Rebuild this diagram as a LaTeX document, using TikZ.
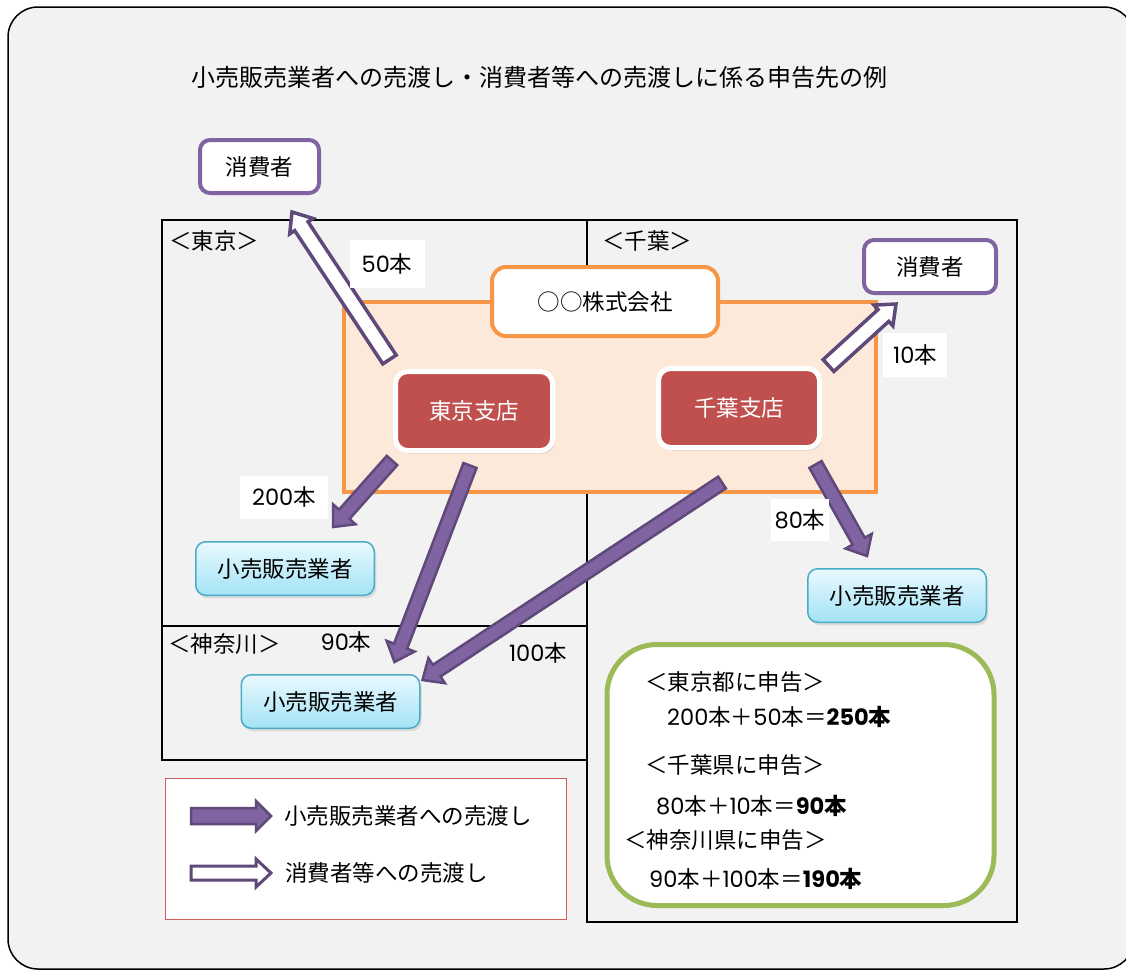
\documentclass[tikz,border=0pt]{standalone}
\usepackage{fontspec}
\usepackage{xcolor}
\usetikzlibrary{calc,shadows}
\newfontfamily\jpfont{Noto Sans CJK JP}
\newfontfamily\numfont{Poppins}
\newcommand\nm[1]{{\numfont #1}}
\definecolor{bgGray}{HTML}{F2F2F2}
\definecolor{consPurple}{HTML}{8064A2}
\definecolor{arrowLine}{HTML}{5F497A}
\definecolor{sellFill}{HTML}{8064A2}
\definecolor{corpOrange}{HTML}{F79646}
\definecolor{corpFill}{HTML}{FDE9D9}
\definecolor{branchRed}{HTML}{C0504D}
\definecolor{retailLine}{HTML}{4BACC6}
\definecolor{retailTop}{HTML}{E9F9FE}
\definecolor{retailBot}{HTML}{A3E3F6}
\definecolor{sumGreen}{HTML}{9BBB59}
\definecolor{legendRed}{HTML}{D0605C}
\tikzset{
  arrow shaft/.store in=\arrShaft,
  arrow head/.store in=\arrHead,
  arrow tiplen/.store in=\arrTip,
  arrow shaft=7pt, arrow head=15pt, arrow tiplen=17pt,
  blockarrow/.style={draw=arrowLine, line join=miter,
    to path={let \p1=(\tikztostart), \p2=(\tikztotarget),
      \n1={atan2(\y2-\y1,\x2-\x1)} in
      ($(\p1)+(\n1+90:\arrShaft)$)
      -- ($(\p2)+(\n1+180:\arrTip)+(\n1+90:\arrShaft)$)
      -- ($(\p2)+(\n1+180:\arrTip)+(\n1+90:\arrHead)$)
      -- (\p2)
      -- ($(\p2)+(\n1+180:\arrTip)+(\n1-90:\arrHead)$)
      -- ($(\p2)+(\n1+180:\arrTip)+(\n1-90:\arrShaft)$)
      -- ($(\p1)+(\n1-90:\arrShaft)$) -- cycle}},
  sellarrow/.style={blockarrow, fill=sellFill, line width=2.5pt},
  consarrow/.style={blockarrow, fill=white, line width=3.5pt,
    arrow shaft=8pt, arrow head=14pt, arrow tiplen=17pt}
}
\begin{document}
\begin{tikzpicture}[x=1pt,y=-1pt,
  font=\jpfont\fontsize{22.5}{26}\selectfont,
  regionbox/.style={draw=black, line width=2.5pt},
  lbl/.style={anchor=west, inner sep=0pt},
  consbox/.style={draw=consPurple, line width=4pt, fill=white,
    rounded corners=10pt, inner sep=0pt},
  corpbox/.style={draw=corpOrange, line width=4pt, fill=corpFill, inner sep=0pt},
  corpname/.style={draw=corpOrange, line width=4pt, fill=white,
    rounded corners=14pt, inner sep=0pt},
  branchbox/.style={draw=white, line width=5pt, fill=branchRed, text=white,
    rounded corners=12pt, inner sep=0pt,
    drop shadow={opacity=0.25, shadow xshift=2pt, shadow yshift=-3pt}},
  retailbox/.style={draw=retailLine, line width=1.5pt, rounded corners=10pt,
    top color=retailTop, bottom color=retailBot, inner sep=0pt,
    drop shadow={opacity=0.2, shadow xshift=2pt, shadow yshift=-3pt}},
  numlbl/.style={fill=white, inner sep=0pt},
  sumbox/.style={draw=sumGreen, line width=5pt, fill=white,
    rounded corners=50pt, inner sep=0pt},
  legendbox/.style={draw=legendRed, line width=1.2pt, fill=white, inner sep=0pt}]

\useasboundingbox (0,0) rectangle (1126,972);
\clip (0,0) rectangle (1126,972);
\fill[white] (0,0) rectangle (1126,972);
\draw[fill=bgGray, line width=1.5pt, rounded corners=30pt] (8,7) rectangle (1134,969);

\node[font=\jpfont\fontsize{24}{28}\selectfont] (title) at (539,77)
  {小売販売業者への売渡し・消費者等への売渡しに係る申告先の例};

\draw[regionbox] (162,220) rectangle (587,626);
\draw[regionbox] (587,220) rectangle (1017,922);
\draw[regionbox] (162,626) rectangle (587,760);
\node[lbl] (tkLbl) at (169,241) {＜東京＞};
\node[lbl] (cbLbl) at (602,241) {＜千葉＞};
\node[lbl] (kgLbl) at (168,644) {＜神奈川＞};

\node[corpbox, minimum width=532pt, minimum height=190pt] (corp) at (610,397) {};
\node[corpname, minimum width=226pt, minimum height=69pt] (corpName) at (605,301.5) {○○株式会社};
\node[branchbox, minimum width=157pt, minimum height=79pt] (tkBr) at (474,411) {東京支店};
\node[branchbox, minimum width=161pt, minimum height=79pt] (cbBr) at (739,408) {千葉支店};

\node[consbox, minimum width=119pt, minimum height=53pt] (tkCons) at (259.5,166.5) {消費者};
\node[consbox, minimum width=132pt, minimum height=53pt] (cbCons) at (930,266.5) {消費者};

\node[retailbox, minimum width=178.5pt, minimum height=53.5pt] (tkRt) at (285,568.5) {小売販売業者};
\node[retailbox, minimum width=178.5pt, minimum height=53.5pt] (cbRt) at (897,595.5) {小売販売業者};
\node[retailbox, minimum width=178.5pt, minimum height=53.5pt] (kgRt) at (330.5,701.5) {小売販売業者};

\draw[consarrow] ([shift={(-3.5,-9.5)}]tkBr.north west) to ([shift={(32.5,17)}]tkCons.south);
\draw[consarrow] ([shift={(6.5,-0.5)}]cbBr.north east) to ([shift={(34,9)}]cbCons.south west);
\draw[sellarrow] ([shift={(-1,7.5)}]tkBr.south west) to ([shift={(48,-14)}]tkRt.north);
\draw[sellarrow] ([shift={(-4,12.5)}]tkBr.south) to ([shift={(64,-12)}]kgRt.north);
\draw[sellarrow] ([shift={(-17,32.5)}]cbBr.south) to ([shift={(2,6)}]kgRt.north east);
\draw[sellarrow] ([shift={(-6.5,14.5)}]cbBr.south east) to ([shift={(-30,-12)}]cbRt.north);

\node[numlbl, minimum width=75pt, minimum height=48pt] (n50) at (387,264) {\nm{50}本};
\node[numlbl, minimum width=64pt, minimum height=44pt] (n10) at (915,355) {\nm{10}本};
\node[numlbl, minimum width=88pt, minimum height=43pt] (n200) at (284,497) {\nm{200}本};
\node[numlbl, minimum width=58pt, minimum height=42pt] (n80) at (800,520) {\nm{80}本};
\node (n90) at (346,642) {\nm{90}本};
\node (n100) at (538,653) {\nm{100}本};

\node[sumbox, minimum width=387pt, minimum height=261pt] (sum) at (800.5,775) {};
\node[lbl] (sumTkHead) at (645,682) {＜東京都に申告＞};
\node[lbl] (sumTkVal) at (667,717) {\nm{200}本＋\nm{50}本＝\textbf{\nm{250}本}};
\node[lbl] (sumCbHead) at (645,765) {＜千葉県に申告＞};
\node[lbl] (sumCbVal) at (656,806) {\nm{80}本＋\nm{10}本＝\textbf{\nm{90}本}};
\node[lbl] (sumKgHead) at (624,840) {＜神奈川県に申告＞};
\node[lbl] (sumKgVal) at (649,879) {\nm{90}本＋\nm{100}本＝\textbf{\nm{190}本}};

\node[legendbox, minimum width=401pt, minimum height=141pt] (legend) at (366,849) {};
\node[lbl] (lgSell) at (284,816) {小売販売業者への売渡し};
\node[lbl] (lgCons) at (285,873) {消費者等への売渡し};
\draw[sellarrow, arrow shaft=8pt, arrow head=15pt, arrow tiplen=15pt]
  ([xshift=-93pt]lgSell.west) to ([xshift=-13pt]lgSell.west);
\draw[consarrow, line width=3pt, arrow shaft=7pt, arrow head=14pt, arrow tiplen=15pt]
  ([xshift=-94pt]lgCons.west) to ([xshift=-14pt]lgCons.west);
\end{tikzpicture}
\end{document}
